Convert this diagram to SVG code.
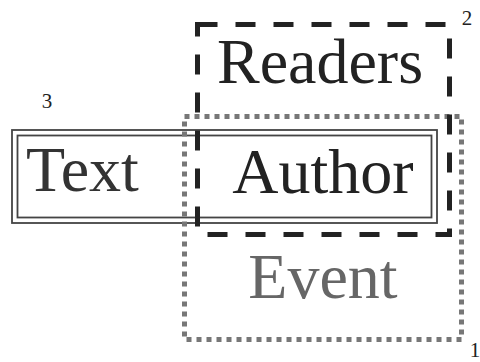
<svg xmlns="http://www.w3.org/2000/svg" width="480" height="362" viewBox="0 0 480 362">
<style>
.big{font-family:"Liberation Serif","Times New Roman",serif;font-size:64px}
.num{font-family:"Liberation Serif","Times New Roman",serif;font-size:21px;fill:#222}
</style>
<rect width="480" height="362" fill="#fff"/>
<g id="node3">
<rect x="12" y="130" width="425" height="93" fill="none" stroke="#444" stroke-width="1.8"/>
<rect x="17.5" y="135.5" width="414" height="82" fill="none" stroke="#444" stroke-width="1.8"/>
<text x="26" y="191" class="big" fill="#333">Text</text>
<text x="47" y="108" class="num" text-anchor="middle">3</text>
</g>
<g id="node1">
<rect x="184.5" y="116.5" width="277" height="223" fill="none" stroke="#777" stroke-width="5" stroke-dasharray="5 5"/>
<text x="323" y="298" class="big" fill="#666" text-anchor="middle">Event</text>
<text x="475" y="357" class="num" text-anchor="middle">1</text>
</g>
<g id="node2">
<rect x="197.5" y="24.5" width="252" height="210" fill="none" stroke="#222" stroke-width="5" stroke-dasharray="20 18"/>
<text x="320" y="83" class="big" fill="#222" text-anchor="middle">Readers</text>
<text x="323" y="193" class="big" fill="#222" text-anchor="middle">Author</text>
<text x="467" y="25" class="num" text-anchor="middle">2</text>
</g>
<g id="connectors"/>
</svg>
